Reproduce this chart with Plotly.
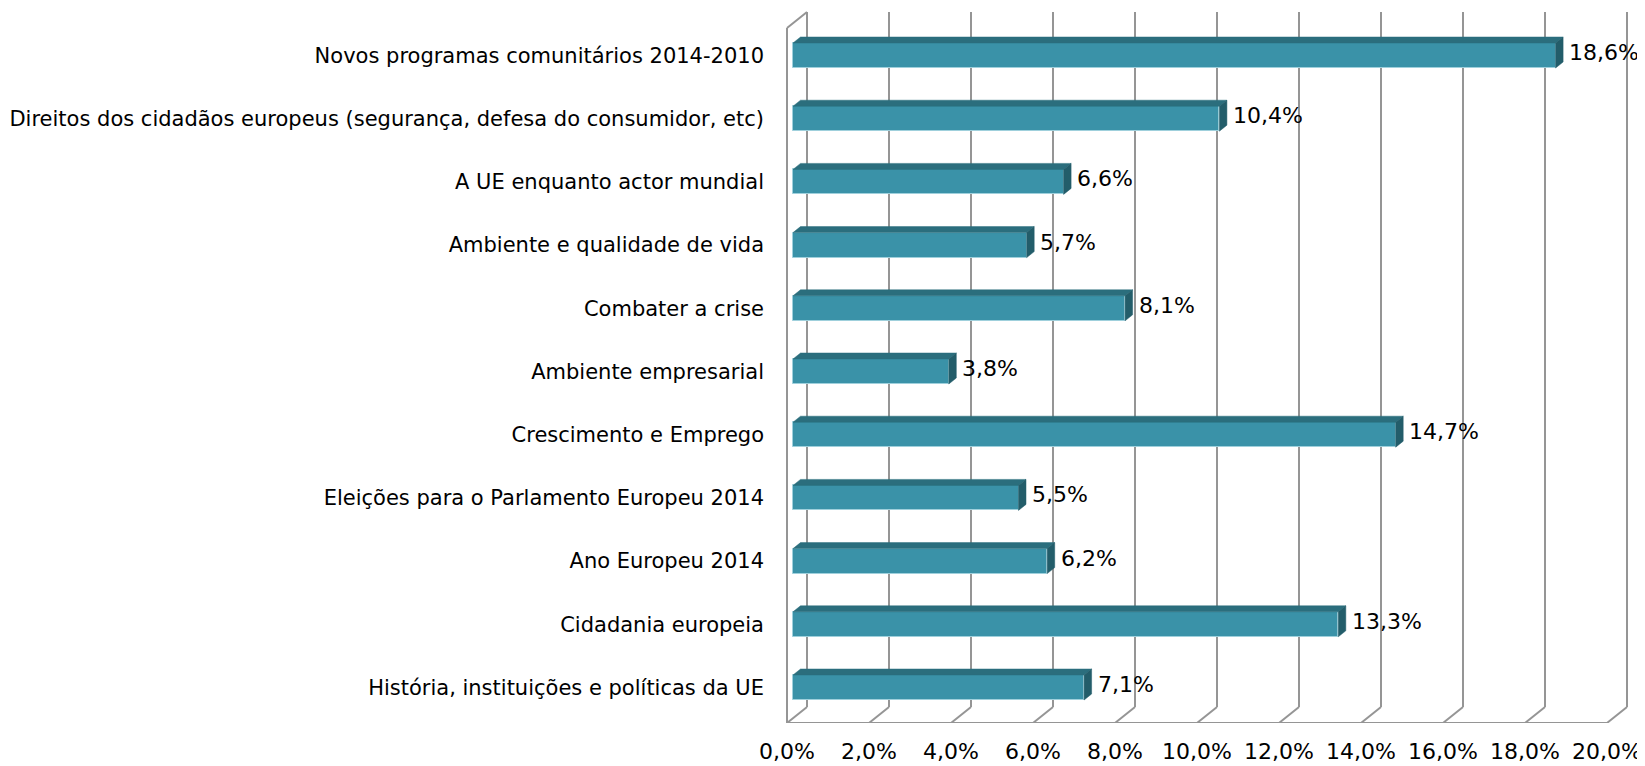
import plotly.graph_objects as go

# ---------------- data ----------------
categories = [
    "História, instituições e políticas da UE",
    "Cidadania europeia",
    "Ano Europeu 2014",
    "Eleições para o Parlamento Europeu 2014",
    "Crescimento e Emprego",
    "Ambiente empresarial",
    "Combater a crise",
    "Ambiente e qualidade de vida",
    "A UE enquanto actor mundial",
    "Direitos dos cidadãos europeus (segurança, defesa do consumidor, etc)",
    "Novos programas comunitários 2014-2010",
]
values = [7.1, 13.3, 6.2, 5.5, 14.7, 3.8, 8.1, 5.7, 6.6, 10.4, 18.6]
x_ticks = [0, 2, 4, 6, 8, 10, 12, 14, 16, 18, 20]
x_tick_labels = [f"{t:.1f}".replace(".", ",") + "%" for t in x_ticks]
value_labels = [f"{v:.1f}".replace(".", ",") + "%" for v in values]

# ---------------- geometry / style ----------------
PAGE_OFF = 8                     # default body margin of the html page
W, H = 1645 - PAGE_OFF, 766 - PAGE_OFF
PLOT_LEFT_PG, PLOT_BOTTOM_PG = 775, 723    # page pixels
ML = PLOT_LEFT_PG - PAGE_OFF
MT = 0
MB = H - (PLOT_BOTTOM_PG - PAGE_OFF)
MR = 0
PX_X = 41.0      # pixels per 1 %
PX_Y = 63.2      # pixels per category
BAR_LEFT_PG = 793
CAT0_CENTER_PG = 687.5
plot_w = W - ML - MR
plot_h = H - MT - MB
x0 = -(BAR_LEFT_PG - PLOT_LEFT_PG) / PX_X
x1 = x0 + plot_w / PX_X
y0 = -(PLOT_BOTTOM_PG - CAT0_CENTER_PG) / PX_Y
y1 = y0 + plot_h / PX_Y

def dxp(px):
    return px / PX_X

def dyp(px):
    return px / PX_Y

FRONT_DX = dxp(-6)     # front wall plane relative to bars
BACK_DX = dxp(14)      # back wall plane relative to bars
BACK_DY = dyp(16)
y_floor_front = y0
y_floor_back = y0 + BACK_DY
y_top_back = y0 + dyp(PLOT_BOTTOM_PG - 12)
y_top_front = y_top_back - BACK_DY

BAR_H = dyp(25)
TOP_DX = dxp(7.5)
TOP_DY = dyp(6)

FACE = "#3A92A8"
TOP = "#2B6E7D"
SIDE = "#235D6A"
GRID = "#959595"
FONT = "DejaVu Sans"

fig = go.Figure()

idx = list(range(len(categories)))

fig.add_trace(go.Bar(
    x=values, y=idx, orientation="h", width=BAR_H, base=0,
    marker=dict(color=FACE, line=dict(color="#9FD0DC", width=1)),
    hoverinfo="skip", showlegend=False,
))

# top and side faces of the 3-D bars
tx, ty, sx, sy = [], [], [], []
for i, v in zip(idx, values):
    yt = i + BAR_H / 2
    yb = i - BAR_H / 2
    tx += [0, v, v + TOP_DX, TOP_DX, 0, None]
    ty += [yt, yt, yt + TOP_DY, yt + TOP_DY, yt, None]
    sx += [v, v, v + TOP_DX, v + TOP_DX, v, None]
    sy += [yb, yt, yt + TOP_DY, yb + TOP_DY, yb, None]

fig.add_trace(go.Scatter(x=tx, y=ty, mode="lines", fill="toself", fillcolor=TOP,
                         line=dict(color=TOP, width=0.5), hoverinfo="skip", showlegend=False))
fig.add_trace(go.Scatter(x=sx, y=sy, mode="lines", fill="toself", fillcolor=SIDE,
                         line=dict(color=SIDE, width=0.5), hoverinfo="skip", showlegend=False))

# walls / grid
shapes = []
line = dict(color=GRID, width=2)
for t in x_ticks:
    shapes.append(dict(type="line", xref="x", yref="y", layer="below",
                       x0=t + BACK_DX, x1=t + BACK_DX, y0=y_floor_back, y1=y_top_back, line=line))
    shapes.append(dict(type="line", xref="x", yref="y", layer="below",
                       x0=t + FRONT_DX, x1=t + BACK_DX, y0=y_floor_front, y1=y_floor_back, line=line))
shapes.append(dict(type="line", xref="x", yref="y", layer="below",
                   x0=x_ticks[0] + FRONT_DX, x1=x_ticks[-1] + FRONT_DX,
                   y0=y_floor_front, y1=y_floor_front, line=line))
shapes.append(dict(type="line", xref="x", yref="y", layer="below",
                   x0=x_ticks[0] + FRONT_DX, x1=x_ticks[0] + FRONT_DX,
                   y0=y_floor_front, y1=y_top_front, line=line))
shapes.append(dict(type="line", xref="x", yref="y", layer="below",
                   x0=x_ticks[0] + FRONT_DX, x1=x_ticks[0] + BACK_DX,
                   y0=y_top_front, y1=y_top_back, line=line))

annotations = []
for i, v, lab in zip(idx, values, value_labels):
    annotations.append(dict(x=v + TOP_DX, y=i + TOP_DY / 2, xref="x", yref="y", text=lab,
                            showarrow=False, xanchor="left", yanchor="middle", xshift=4,
                            font=dict(family=FONT, size=22, color="#000000")))

fig.update_layout(
    width=W, height=H,
    margin=dict(l=ML, r=MR, t=MT, b=MB, pad=0),
    paper_bgcolor="white", plot_bgcolor="white",
    shapes=shapes, annotations=annotations,
    bargap=0,
    xaxis=dict(range=[x0, x1], tickvals=[t + FRONT_DX for t in x_ticks], ticktext=x_tick_labels,
               showgrid=False, zeroline=False, showline=False, ticks="",
               ticklabelstandoff=13, ticklabeloverflow="allow",
               tickfont=dict(family=FONT, size=22, color="#000000")),
    yaxis=dict(range=[y0, y1], tickvals=idx, ticktext=categories,
               showgrid=False, zeroline=False, showline=False, ticks="",
               ticklabelstandoff=10,
               tickfont=dict(family=FONT, size=21, color="#000000")),
)

fig.write_html("out.html")
